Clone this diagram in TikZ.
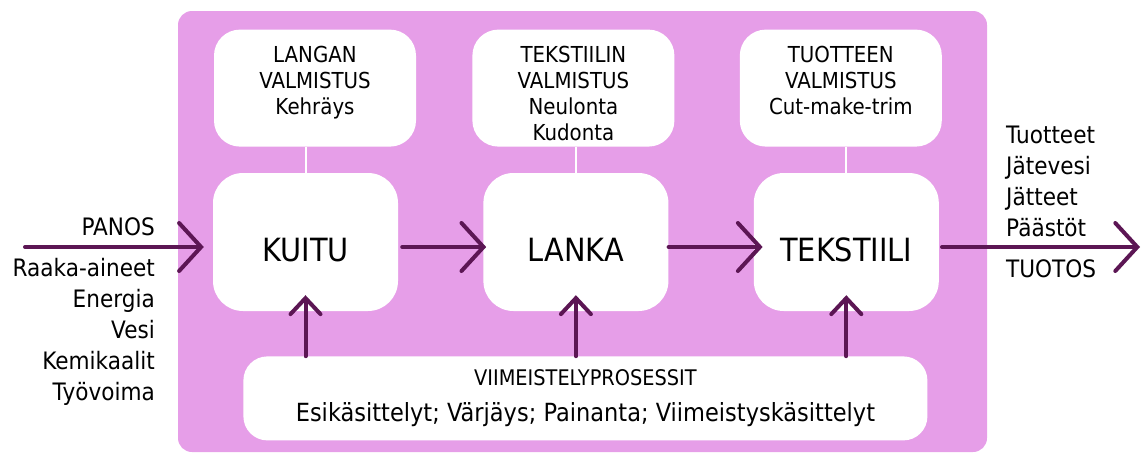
\documentclass[tikz,border=0pt]{standalone}
\usepackage{fontspec}
\setmainfont{DejaVu Sans}[FakeStretch=0.9]
\usetikzlibrary{arrows.meta,positioning}

\definecolor{lilac}{RGB}{230,158,232}
\definecolor{plum}{RGB}{92,22,84}

\newcommand{\methodlines}[1]{\begin{tabular}[t]{@{}c@{}}#1\end{tabular}}

\tikzset{
  stagebox/.style={fill=white,rounded corners=30pt,minimum width=185pt,minimum height=138pt,
                   inner sep=0pt,text height=38pt,text depth=0pt,font=\fontsize{32}{38}\selectfont},
  methodbox/.style={fill=white,rounded corners=26pt,minimum width=202pt,minimum height=117pt,
                    inner sep=0pt,text height=0pt,text depth=51.7pt,
                    font=\fontsize{22}{26}\selectfont},
  finishbox/.style={fill=white,rounded corners=24pt,minimum width=684pt,minimum height=84pt,
                    inner sep=0pt,align=center,font=\fontsize{25}{36}\selectfont},
  sidetext/.style={inner sep=0pt,font=\fontsize{24}{31}\selectfont},
  flow/.style={draw=plum,line width=4pt,line cap=round,
               -{Straight Barb[length=22pt,width=48pt,line cap=round]}},
  lift/.style={draw=plum,line width=4pt,line cap=round,
               -{Straight Barb[length=16pt,width=30pt,line cap=round]}},
  tie/.style={draw=white,line width=2pt}
}

\begin{document}
\begin{tikzpicture}[x=1pt,y=-1pt,node distance=85pt]
\useasboundingbox (0,0) rectangle (1142,453);
\fill[lilac,rounded corners=14pt] (178,11) rectangle (987,452);

% main chain
\node[stagebox] (kuitu) at (305.5,242) {KUITU};
\node[stagebox] (lanka) [right=of kuitu] {LANKA};
\node[stagebox] (tekstiili) [right=of lanka] {TEKSTIILI};

% methods above
\node[methodbox] (langan) [above=26pt of kuitu,xshift=9.5pt]
  {\methodlines{LANGAN\\VALMISTUS\\Kehräys}};
\node[methodbox] (tekstiilin) [above=26pt of lanka,xshift=-2.5pt]
  {\methodlines{TEKSTIILIN\\VALMISTUS\\Neulonta\\Kudonta}};
\node[methodbox] (tuotteen) [above=26pt of tekstiili,xshift=-5.5pt]
  {\methodlines{TUOTTEEN\\VALMISTUS\\Cut-make-trim}};

\node[finishbox] (viim) [below=45pt of lanka,xshift=9.5pt]
  {{\fontsize{21.5}{24}\selectfont VIIMEISTELYPROSESSIT}\\Esikäsittelyt; Värjäys; Painanta; Viimeistyskäsittelyt};

\draw[tie] (langan.south -| kuitu) -- (kuitu.north);
\draw[tie] (tekstiilin.south -| lanka) -- (lanka.north);
\draw[tie] (tuotteen.south -| tekstiili) -- (tekstiili.north);

% inputs and outputs
\coordinate (in) at (25,247);
\coordinate (out) at (1140,247);
\node[sidetext,anchor=east] (panos) at (155,227) {PANOS};
\node[sidetext,anchor=north east,align=right] (inputs) at (155,258.5)
  {Raaka-aineet\\Energia\\Vesi\\Kemikaalit\\Työvoima};
\node[sidetext,anchor=north west,align=left] (outputs) at (1006,126)
  {Tuotteet\\Jätevesi\\Jätteet\\Päästöt};
\node[sidetext,anchor=west] (tuotos) at (1006,269) {TUOTOS};

\draw[flow,shorten >=9pt] (in) -- (in -| kuitu.west);
\draw[flow,shorten <=4pt,shorten >=-3pt] ([yshift=-5pt]kuitu.east) -- ([yshift=-5pt]lanka.west);
\draw[flow,shorten >=-9pt] ([yshift=-5pt]lanka.east) -- ([yshift=-5pt]tekstiili.west);
\draw[flow,shorten <=3pt] (out -| tekstiili.east) -- (out);

\draw[lift,shorten >=-16pt] (viim.north -| kuitu) -- (kuitu.south);
\draw[lift,shorten >=-16pt] (viim.north -| lanka) -- (lanka.south);
\draw[lift,shorten >=-16pt] (viim.north -| tekstiili) -- (tekstiili.south);
\end{tikzpicture}
\end{document}
